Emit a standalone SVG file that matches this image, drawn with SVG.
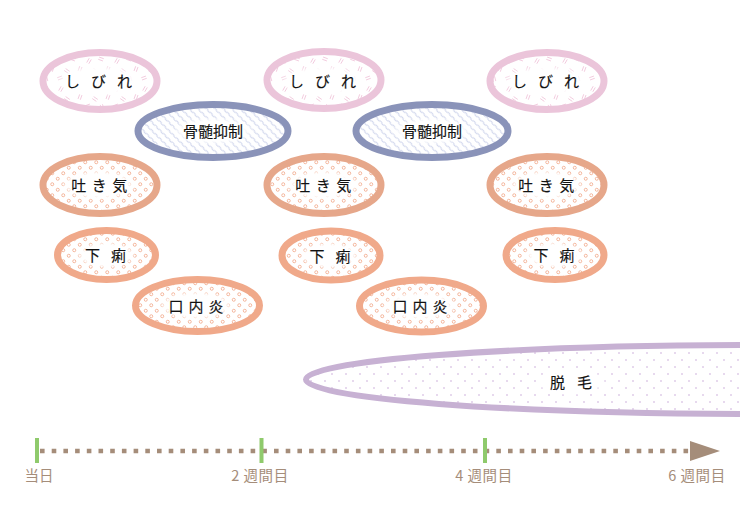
<svg xmlns="http://www.w3.org/2000/svg" xmlns:xlink="http://www.w3.org/1999/xlink" width="740" height="531" viewBox="0 0 740 531">
<style>
.lbl{font-family:"Noto Sans CJK JP","Noto Sans",sans-serif;font-size:15px;font-weight:400;fill:#111;stroke:#111;stroke-width:0.15;text-anchor:middle}
.tl{font-family:"Noto Sans CJK JP","Noto Sans",sans-serif;font-size:14.5px;font-weight:400;fill:#a58d7a;text-anchor:middle}
.sib{fill:url(#pSib);stroke:#ebc5da;stroke-width:7}
.kot{fill:url(#pKot);stroke:#8a93b9;stroke-width:7}
.hak{fill:url(#pRing);stroke:#e6a78a;stroke-width:7}
.ger{fill:url(#pRing);stroke:#f0a98a;stroke-width:7}
.dat{fill:url(#pDot);stroke:#c7b1d3;stroke-width:6}
.clr{fill:url(#gClear)}
</style>
<defs>
<g id="pair"><path d="M-2.5,-1.2 L2.5,-1.2 M-2.5,1.2 L2.5,1.2" stroke="#f0c4da" stroke-width="0.8" fill="none"/></g>
<pattern id="pSib" width="28" height="28" patternUnits="userSpaceOnUse">
<rect width="28" height="28" fill="#fff"/>
<use xlink:href="#pair" transform="translate(5,5) rotate(-60)"/>
<use xlink:href="#pair" transform="translate(17,3) rotate(20)"/>
<use xlink:href="#pair" transform="translate(24,13) rotate(-70)"/>
<use xlink:href="#pair" transform="translate(11,15) rotate(35)"/>
<use xlink:href="#pair" transform="translate(4,22) rotate(-20)"/>
<use xlink:href="#pair" transform="translate(18,23) rotate(75)"/>
</pattern>
<pattern id="pKot" width="6" height="6" patternUnits="userSpaceOnUse" patternTransform="rotate(45)">
<rect width="6" height="6" fill="#fff"/>
<path d="M0,3 Q1.5,2 3,3 T6,3" stroke="#b7c0e2" stroke-width="0.8" fill="none"/>
</pattern>
<pattern id="pRing" width="11" height="11" patternUnits="userSpaceOnUse">
<rect width="11" height="11" fill="#fff"/>
<circle cx="2.75" cy="2.75" r="1.5" fill="none" stroke="#f0a585" stroke-width="0.8"/>
<circle cx="8.25" cy="8.25" r="1.5" fill="none" stroke="#f0a585" stroke-width="0.8"/>
</pattern>
<pattern id="pDot" width="14" height="14" patternUnits="userSpaceOnUse">
<rect width="14" height="14" fill="#fff"/>
<circle cx="3" cy="3" r="0.8" fill="#c9a9d9"/>
<circle cx="10" cy="10" r="0.8" fill="#c9a9d9"/>
</pattern>
<radialGradient id="gClear">
<stop offset="0" stop-color="#fff" stop-opacity="1"/>
<stop offset="0.7" stop-color="#fff" stop-opacity="1"/>
<stop offset="1" stop-color="#fff" stop-opacity="0"/>
</radialGradient>
<marker id="arrow" markerWidth="30" markerHeight="20" refX="0" refY="10" orient="auto" markerUnits="userSpaceOnUse">
<path d="M0,0 L30,10 L0,20 Z" fill="#a58d7a"/>
</marker>
</defs>
<rect width="740" height="531" fill="#fff"/>

<g id="datsumo">
<ellipse class="dat" cx="760" cy="379.5" rx="454" ry="34.5"/>
<ellipse class="clr" cx="571" cy="382" rx="36" ry="14"/>
<text class="lbl" x="577" y="387.5" letter-spacing="12">脱毛</text>
</g>

<g id="shibire1">
<ellipse class="sib" cx="100" cy="81" rx="57" ry="28.5"/>
<ellipse class="clr" cx="99" cy="81" rx="44" ry="16"/>
<text class="lbl" x="104" y="87" letter-spacing="11">しびれ</text>
</g>
<g id="shibire2">
<ellipse class="sib" cx="324" cy="80" rx="57" ry="28.5"/>
<ellipse class="clr" cx="323" cy="81" rx="44" ry="16"/>
<text class="lbl" x="328" y="87" letter-spacing="11">しびれ</text>
</g>
<g id="shibire3">
<ellipse class="sib" cx="547" cy="81" rx="57" ry="28.5"/>
<ellipse class="clr" cx="546" cy="81" rx="44" ry="16"/>
<text class="lbl" x="551" y="87" letter-spacing="11">しびれ</text>
</g>

<g id="kotsuzui1">
<ellipse class="kot" cx="213" cy="131" rx="75" ry="26.5"/>
<ellipse class="clr" cx="213" cy="131" rx="42" ry="14"/>
<text class="lbl" x="213" y="137">骨髄抑制</text>
</g>
<g id="kotsuzui2">
<ellipse class="kot" cx="432" cy="131" rx="76" ry="26.5"/>
<ellipse class="clr" cx="432" cy="131" rx="42" ry="14"/>
<text class="lbl" x="432" y="137">骨髄抑制</text>
</g>

<g id="hakike1">
<ellipse class="hak" cx="100" cy="185" rx="57" ry="28.5"/>
<ellipse class="clr" cx="99" cy="185" rx="39" ry="15.5"/>
<text class="lbl" x="102" y="191" letter-spacing="5.5">吐き気</text>
</g>
<g id="hakike2">
<ellipse class="hak" cx="324" cy="185" rx="57" ry="28.5"/>
<ellipse class="clr" cx="323" cy="185" rx="39" ry="15.5"/>
<text class="lbl" x="326" y="191" letter-spacing="5.5">吐き気</text>
</g>
<g id="hakike3">
<ellipse class="hak" cx="547" cy="185" rx="57" ry="28.5"/>
<ellipse class="clr" cx="546" cy="185" rx="39" ry="15.5"/>
<text class="lbl" x="549" y="191" letter-spacing="5.5">吐き気</text>
</g>

<g id="geri1">
<ellipse class="ger" cx="106.5" cy="255" rx="49" ry="24.5"/>
<ellipse class="clr" cx="106" cy="255" rx="31" ry="14"/>
<text class="lbl" x="111" y="261" letter-spacing="11">下痢</text>
</g>
<g id="geri2">
<ellipse class="ger" cx="331" cy="255.5" rx="49" ry="24.5"/>
<ellipse class="clr" cx="330" cy="255.5" rx="31" ry="14"/>
<text class="lbl" x="335.5" y="261.5" letter-spacing="11">下痢</text>
</g>
<g id="geri3">
<ellipse class="ger" cx="555" cy="255" rx="49" ry="24.5"/>
<ellipse class="clr" cx="554" cy="255" rx="31" ry="14"/>
<text class="lbl" x="559.5" y="261" letter-spacing="11">下痢</text>
</g>

<g id="kounaien1">
<ellipse class="ger" cx="197.5" cy="305.5" rx="62" ry="26"/>
<ellipse class="clr" cx="196" cy="305.5" rx="39" ry="15"/>
<text class="lbl" x="198.5" y="311.5" letter-spacing="5">口内炎</text>
</g>
<g id="kounaien2">
<ellipse class="ger" cx="421.5" cy="306" rx="62" ry="26"/>
<ellipse class="clr" cx="420" cy="306" rx="39" ry="15"/>
<text class="lbl" x="422.5" y="312" letter-spacing="5">口内炎</text>
</g>

<g id="connectors">
<line x1="40" y1="451" x2="690" y2="451" stroke="#a58d7a" stroke-width="4.6" stroke-dasharray="4.6 7.1" marker-end="url(#arrow)"/>
</g>

<g id="timeline">
<g fill="#8fca6c">
<rect x="35" y="438" width="4" height="25"/>
<rect x="259.5" y="438" width="4" height="25"/>
<rect x="483" y="438" width="4" height="25"/>
</g>
<text class="tl" x="39" y="481">当日</text>
<text class="tl" x="260" y="481">2 <tspan dx="1" letter-spacing="0.6">週間目</tspan></text>
<text class="tl" x="484" y="481">4 <tspan dx="1" letter-spacing="0.6">週間目</tspan></text>
<text class="tl" x="697" y="481">6 <tspan dx="1" letter-spacing="0.6">週間目</tspan></text>
</g>
</svg>
